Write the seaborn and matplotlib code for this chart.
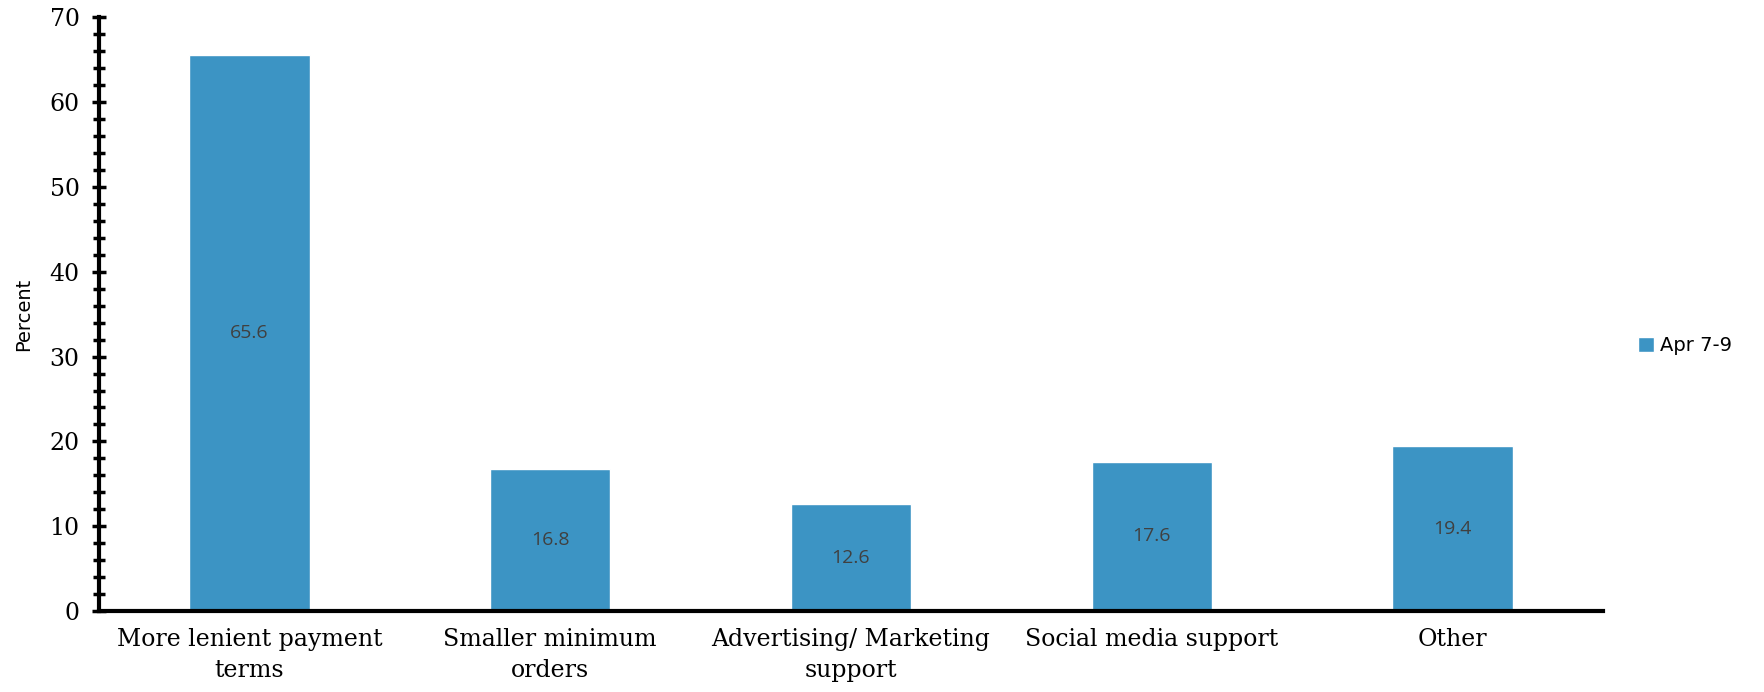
import pandas as pd
import matplotlib.pyplot as plt
import seaborn as sns
from matplotlib.ticker import MultipleLocator

# Data
categories = ["More lenient payment\nterms", "Smaller minimum\norders",
              "Advertising/ Marketing\nsupport", "Social media support", "Other"]
values = [65.6, 16.8, 12.6, 17.6, 19.4]
series_name = "Apr 7-9"

df = pd.DataFrame({"Category": categories, "Percent": values, "Series": series_name})

sns.set_style("white")
plt.rcParams['font.family'] = ['DejaVu Sans']
plt.rcParams['text.color'] = 'black'
plt.rcParams['axes.labelcolor'] = 'black'
plt.rcParams['xtick.color'] = 'black'
plt.rcParams['ytick.color'] = 'black'

fig = plt.figure(figsize=(17.64, 6.92), dpi=100)
ax = fig.add_axes([0.0561, 0.117, 0.8526, 0.858])

sns.barplot(data=df, x="Category", y="Percent", hue="Series",
            palette=["#3C94C4"], width=0.4, ax=ax, saturation=1)

# value labels in the middle of each bar
for c in ax.containers:
    ax.bar_label(c, labels=[f"{v:.1f}" for v in values], label_type="center",
                 color="#404040", fontsize=14, family="Open Sans")

ax.set_xlim(-0.5, 4.5)
ax.set_ylim(0, 70)
ax.yaxis.set_major_locator(MultipleLocator(10))
ax.yaxis.set_minor_locator(MultipleLocator(2))
ax.tick_params(axis="y", which="both", left=True, direction="inout", width=2.5,
               length=10, labelsize=17, pad=9)
ax.tick_params(axis="y", which="minor", length=9)
ax.tick_params(axis="x", bottom=False, length=0, labelsize=17, pad=12)
for lbl in ax.get_yticklabels() + ax.get_xticklabels():
    lbl.set_family("DejaVu Serif")
    lbl.set_linespacing(1.45)

ax.set_xlabel("")
ax.set_ylabel("Percent", fontsize=14, labelpad=12)

for s in ["top", "right"]:
    ax.spines[s].set_visible(False)
for s in ["left", "bottom"]:
    ax.spines[s].set_linewidth(3)
    ax.spines[s].set_color("black")

leg = ax.legend(loc="center left", bbox_to_anchor=(1.012, 0.447), frameon=False,
                fontsize=14, handlelength=0.8, handleheight=0.8, handletextpad=0.3)

fig.savefig("out.png", dpi=100)
